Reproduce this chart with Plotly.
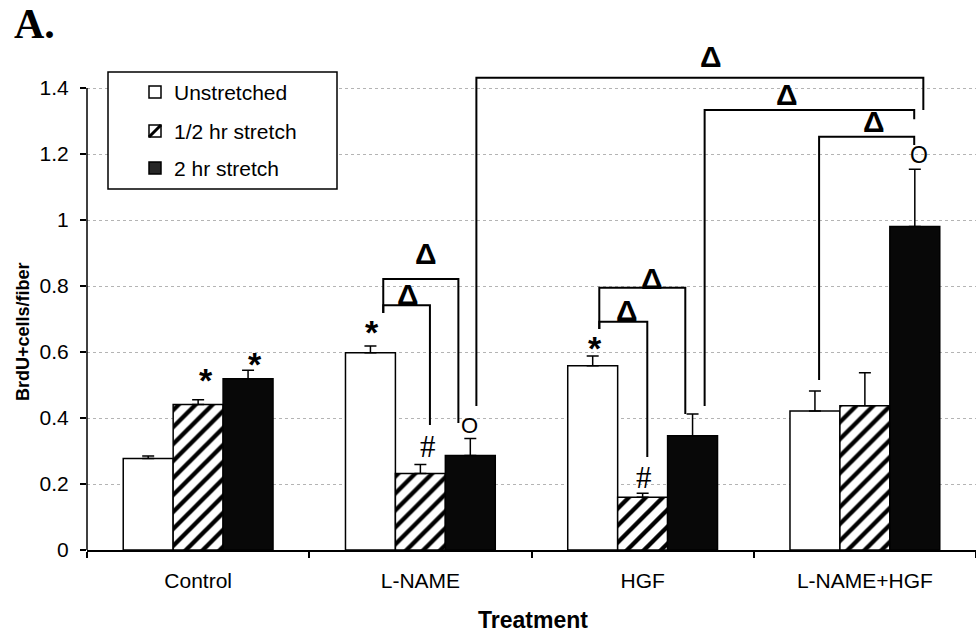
import plotly.graph_objects as go

# ---- data -------------------------------------------------------------
categories = ["Control", "L-NAME", "HGF", "L-NAME+HGF"]
series_names = ["Unstretched", "1/2 hr stretch", "2 hr stretch"]

unstretched = [0.277, 0.598, 0.558, 0.421]
half_hr = [0.441, 0.232, 0.160, 0.437]
two_hr = [0.519, 0.286, 0.346, 0.980]

err_unstretched = [0.008, 0.020, 0.030, 0.061]
err_half_hr = [0.014, 0.027, 0.012, 0.100]
err_two_hr = [0.026, 0.052, 0.066, 0.174]

y_tick_values = [0, 0.2, 0.4, 0.6, 0.8, 1.0, 1.2, 1.4]
y_tick_labels = ["0", "0.2", "0.4", "0.6", "0.8", "1", "1.2", "1.4"]

# ---- page geometry ----------------------------------------------------
W, H = 976, 636
ML, MR, MT, MB = 87, 0, 55, 86
Y_TOP = 1.5
PW, PH = W - ML - MR, H - MT - MB

FONT = "Liberation Sans, Arial, sans-serif"
SERIF = "Liberation Serif, Times New Roman, serif"


def px_x(px):
    return (px - ML) / PW


def px_y(py):
    return (H - MB - py) / PH


fig = go.Figure()

err_style = dict(type="data", symmetric=False, color="black", thickness=1.5, width=6)
outline = dict(color="black", width=1.5)

fig.add_trace(go.Bar(
    name=series_names[0], x=categories, y=unstretched,
    marker=dict(color="white", line=outline),
    error_y=dict(array=err_unstretched, arrayminus=[0] * 4, **err_style),
))
fig.add_trace(go.Bar(
    name=series_names[1], x=categories, y=half_hr,
    marker=dict(color="white", line=outline,
                pattern=dict(shape="/", fgcolor="black", bgcolor="white", fgopacity=1,
                             size=12, solidity=0.36, fillmode="replace")),
    error_y=dict(array=err_half_hr, arrayminus=[0] * 4, **err_style),
))
fig.add_trace(go.Bar(
    name=series_names[2], x=categories, y=two_hr,
    marker=dict(color="#080808", line=outline),
    error_y=dict(array=err_two_hr, arrayminus=[0] * 4, **err_style),
))

shapes = []
annotations = []

# y axis line, stopping at the top tick
shapes.append(dict(type="line", xref="paper", yref="paper", x0=0, x1=0,
                   y0=0, y1=y_tick_values[-1] / Y_TOP,
                   line=dict(color="black", width=1.5)))

# significance brackets: (x_left, x_right, y_top, y_left_end, y_right_end)
brackets = [
    (0.833, 1.043, 0.742, 0.718, 0.379),
    (0.833, 1.171, 0.821, 0.718, 0.385),
    (1.805, 2.021, 0.692, 0.670, 0.282),
    (1.805, 2.192, 0.795, 0.670, 0.412),
    (1.252, 3.263, 1.431, 0.436, 1.333),
    (2.279, 3.222, 1.333, 0.436, 1.305),
    (2.794, 3.222, 1.252, 0.515, 1.227),
]
for xl, xr, yt, yl, yr in brackets:
    shapes.append(dict(
        type="path", xref="x", yref="y",
        path=f"M{xl},{yl} L{xl},{yt} L{xr},{yt} L{xr},{yr}",
        line=dict(color="black", width=2),
    ))

# delta labels over the brackets
deltas = [
    (0.944, 0.773), (1.025, 0.900), (1.928, 0.726), (2.041, 0.822),
    (2.308, 1.494), (2.648, 1.380), (3.041, 1.300),
]
for x, y in deltas:
    annotations.append(dict(x=x, y=y, xref="x", yref="y", text="<b>Δ</b>",
                            showarrow=False, font=dict(family=FONT, size=30, color="black"),
                            xanchor="center", yanchor="middle"))

# markers above bars: (text, x, y, font family, size, bold, vertical fix)
marks = [
    ("*", 0.035, 0.540, FONT, 34, True, -8),
    ("*", 0.256, 0.588, FONT, 34, True, -8),
    ("*", 0.782, 0.685, FONT, 34, True, -8),
    ("*", 1.786, 0.636, FONT, 34, True, -8),
    ("#", 1.034, 0.315, SERIF, 31, False, 0),
    ("#", 2.006, 0.221, SERIF, 31, False, 0),
    ("O", 1.219, 0.376, FONT, 22, False, 0),
    ("O", 3.242, 1.196, FONT, 23, False, 0),
]
for t, x, y, fam, size, bold, dy in marks:
    annotations.append(dict(x=x, y=y, xref="x", yref="y",
                            text=f"<b>{t}</b>" if bold else t, yshift=dy,
                            showarrow=False, font=dict(family=fam, size=size, color="black"),
                            xanchor="center", yanchor="middle"))

# legend box
shapes.append(dict(type="rect", xref="paper", yref="paper",
                   x0=px_x(108), x1=px_x(337), y0=px_y(189), y1=px_y(72),
                   fillcolor="white", line=dict(color="black", width=1.5), layer="above"))
legend_rows = [92, 131, 168]
sym_l, sym_r = 149, 161
for i, (name, cy) in enumerate(zip(series_names, legend_rows)):
    y0, y1 = px_y(cy + 6), px_y(cy - 6)
    fill = "#262626" if i == 2 else "white"
    shapes.append(dict(type="rect", xref="paper", yref="paper",
                       x0=px_x(sym_l), x1=px_x(sym_r), y0=y0, y1=y1,
                       fillcolor=fill, line=dict(color="black", width=1.5), layer="above"))
    if i == 1:
        shapes.append(dict(type="line", xref="paper", yref="paper",
                           x0=px_x(sym_l), x1=px_x(sym_r), y0=y0, y1=y1,
                           line=dict(color="black", width=3), layer="above"))
    annotations.append(dict(x=px_x(172), y=px_y(cy), xref="paper", yref="paper",
                            text=name, showarrow=False, xanchor="left", yanchor="middle",
                            font=dict(family=FONT, size=21, color="black")))

# panel letter and axis titles
annotations.append(dict(x=px_x(12), y=px_y(24), xref="paper", yref="paper",
                        text="<b>A.</b>", showarrow=False, xanchor="left", yanchor="middle",
                        font=dict(family=SERIF, size=42, color="black")))
annotations.append(dict(x=px_x(533), y=px_y(620), xref="paper", yref="paper",
                        text="<b>Treatment</b>", showarrow=False,
                        xanchor="center", yanchor="middle",
                        font=dict(family=FONT, size=23, color="black")))
annotations.append(dict(x=px_x(23), y=px_y(332), xref="paper", yref="paper",
                        text="<b>BrdU+cells/fiber</b>", showarrow=False, textangle=-90,
                        xanchor="center", yanchor="middle",
                        font=dict(family=FONT, size=18, color="black")))

fig.update_layout(
    width=W, height=H,
    margin=dict(l=ML, r=MR, t=MT, b=MB),
    paper_bgcolor="white", plot_bgcolor="white",
    barmode="group", bargap=0.326, bargroupgap=0,
    showlegend=False,
    font=dict(family=FONT, size=21, color="black"),
    shapes=shapes, annotations=annotations,
)
fig.update_xaxes(
    type="category", range=[-0.5, 3.5],
    showline=True, linecolor="black", linewidth=1.5,
    ticks="outside", tickson="boundaries", ticklen=6, tickcolor="black", tickwidth=1.5,
    showgrid=False, ticklabelstandoff=11,
    tickfont=dict(family=FONT, size=21, color="black"),
)
fig.update_yaxes(
    range=[0, Y_TOP], tickvals=y_tick_values, ticktext=y_tick_labels,
    showline=False, zeroline=False,
    ticks="outside", ticklen=6, tickcolor="black", tickwidth=1.5,
    showgrid=True, gridcolor="#b4b4b4", griddash="dot", gridwidth=1,
    ticklabelstandoff=7,
    tickfont=dict(family=FONT, size=21, color="black"),
)

fig.write_html("out.html")
